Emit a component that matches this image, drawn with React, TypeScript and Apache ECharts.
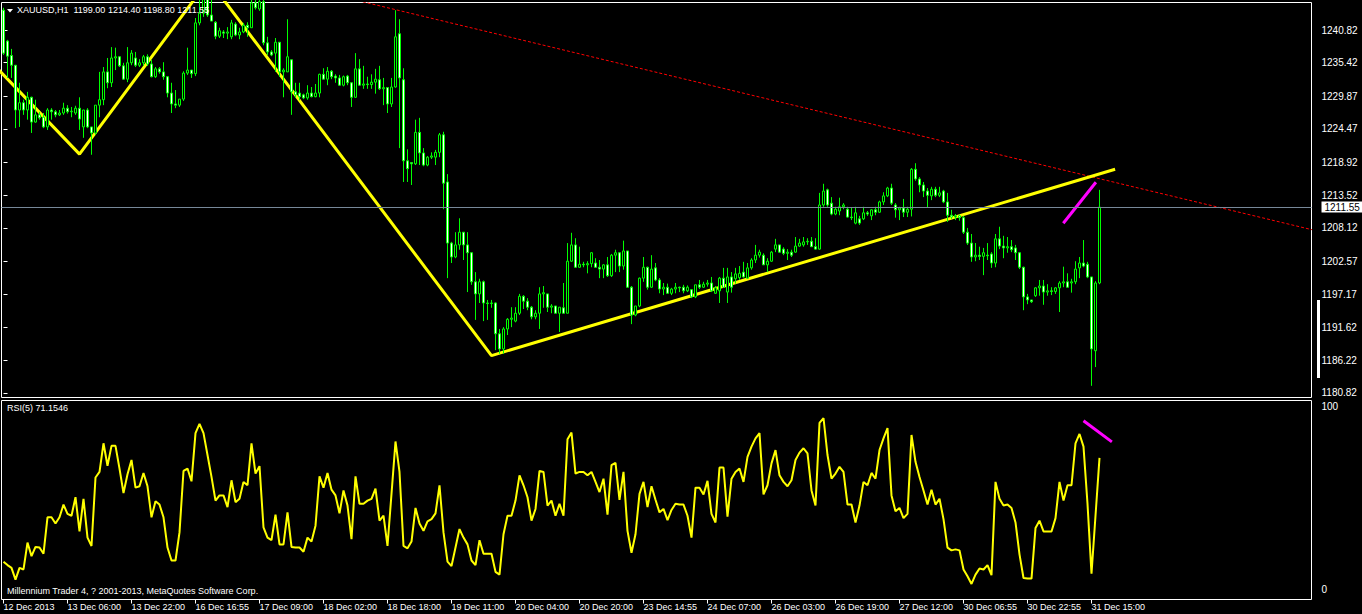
import { useEffect, useRef } from 'react';
import * as echarts from 'echarts';

// ---------- DATA ----------
// XAUUSD H1 candles: [open, high, low, close]
const candles: [number, number, number, number][] = [
  [1244.1, 1244.5, 1236.7, 1237.0], [1239.0, 1239.2, 1232.9, 1236.5], [1236.6, 1237.7, 1232.9, 1235.0], [1235.0, 1235.0, 1224.6, 1227.6],
  [1227.6, 1232.1, 1224.8, 1228.8], [1228.8, 1229.3, 1226.8, 1227.6], [1227.6, 1230.6, 1226.0, 1229.7], [1229.7, 1229.8, 1223.8, 1225.6],
  [1225.6, 1229.3, 1225.5, 1226.8], [1226.8, 1227.3, 1226.0, 1226.3], [1226.4, 1227.1, 1224.6, 1224.8], [1224.8, 1227.9, 1224.3, 1227.6],
  [1227.6, 1227.9, 1226.0, 1227.3], [1227.3, 1227.6, 1226.4, 1226.8], [1226.8, 1227.6, 1226.6, 1227.1], [1227.1, 1228.8, 1226.8, 1227.9],
  [1227.9, 1228.4, 1227.0, 1227.3], [1227.3, 1228.1, 1226.4, 1227.4], [1227.1, 1228.3, 1226.8, 1227.9], [1227.9, 1229.7, 1224.3, 1226.1],
  [1224.8, 1227.6, 1223.0, 1227.6], [1227.6, 1227.9, 1224.6, 1224.8], [1224.8, 1224.8, 1220.2, 1223.8], [1223.8, 1228.4, 1223.5, 1228.4],
  [1228.4, 1233.9, 1226.4, 1229.3], [1229.3, 1234.7, 1228.4, 1233.9], [1233.9, 1236.2, 1231.2, 1232.1], [1232.1, 1238.0, 1231.4, 1236.2],
  [1236.2, 1237.9, 1234.2, 1236.4], [1236.4, 1236.5, 1234.7, 1234.9], [1234.9, 1235.4, 1232.6, 1232.7], [1232.7, 1238.0, 1232.2, 1235.4],
  [1235.4, 1237.5, 1235.0, 1237.0], [1236.2, 1237.2, 1234.7, 1235.0], [1235.0, 1236.0, 1234.7, 1235.4], [1235.4, 1236.7, 1234.9, 1236.4],
  [1236.4, 1236.8, 1234.9, 1235.2], [1235.2, 1235.9, 1233.0, 1233.1], [1233.1, 1234.7, 1232.9, 1234.4], [1234.4, 1234.7, 1233.6, 1233.9],
  [1233.9, 1235.5, 1232.6, 1233.1], [1233.1, 1233.2, 1229.7, 1230.4], [1230.4, 1232.1, 1227.1, 1228.6], [1228.6, 1230.9, 1227.9, 1228.4],
  [1228.4, 1229.4, 1228.1, 1229.4], [1229.4, 1234.0, 1229.1, 1233.7], [1233.7, 1237.9, 1233.4, 1234.2], [1234.2, 1234.2, 1232.9, 1233.6],
  [1233.6, 1242.8, 1233.2, 1242.0], [1242.0, 1245.8, 1241.6, 1243.6], [1243.6, 1247.8, 1243.0, 1246.5], [1246.5, 1248.2, 1243.0, 1243.3],
  [1243.3, 1245.8, 1242.3, 1242.3], [1242.1, 1242.3, 1239.3, 1239.8], [1239.8, 1241.2, 1239.5, 1240.7], [1240.5, 1240.8, 1239.5, 1240.3],
  [1240.3, 1241.3, 1239.3, 1240.5], [1239.7, 1242.5, 1239.3, 1242.0], [1241.8, 1242.1, 1239.8, 1240.0], [1240.0, 1241.2, 1239.3, 1240.5],
  [1240.5, 1242.0, 1240.3, 1241.6], [1241.6, 1242.1, 1239.7, 1241.2], [1241.2, 1245.9, 1241.2, 1245.3], [1245.3, 1246.5, 1244.2, 1244.5],
  [1244.3, 1246.8, 1244.0, 1245.5], [1245.5, 1246.2, 1238.3, 1238.7], [1238.7, 1239.7, 1236.7, 1237.2], [1237.2, 1237.5, 1236.5, 1236.7],
  [1237.0, 1239.5, 1233.9, 1238.8], [1238.8, 1238.8, 1233.1, 1233.9], [1233.9, 1234.5, 1229.7, 1234.2], [1233.9, 1242.6, 1233.9, 1236.4],
  [1235.9, 1235.9, 1226.8, 1230.6], [1230.6, 1232.1, 1229.6, 1230.1], [1230.4, 1232.1, 1229.2, 1229.8], [1230.1, 1230.3, 1229.4, 1229.6],
  [1229.6, 1231.7, 1229.3, 1230.4], [1230.4, 1231.4, 1229.7, 1229.8], [1229.8, 1231.9, 1229.7, 1230.4], [1230.4, 1233.6, 1229.7, 1233.5],
  [1233.5, 1234.5, 1232.7, 1232.7], [1232.7, 1234.7, 1231.7, 1234.0], [1234.0, 1234.2, 1232.7, 1233.1], [1233.2, 1233.5, 1232.1, 1232.9],
  [1232.9, 1233.4, 1231.6, 1231.7], [1231.7, 1233.3, 1231.5, 1233.1], [1233.2, 1233.4, 1231.7, 1232.1], [1232.1, 1232.2, 1228.1, 1229.7],
  [1229.7, 1237.0, 1229.6, 1234.4], [1234.4, 1236.0, 1231.6, 1231.7], [1231.7, 1234.9, 1231.1, 1231.9], [1231.9, 1233.1, 1231.1, 1231.8],
  [1231.8, 1233.5, 1231.1, 1232.2], [1232.2, 1234.4, 1230.3, 1232.7], [1232.6, 1234.9, 1230.9, 1231.1], [1231.1, 1232.9, 1228.4, 1231.3],
  [1231.3, 1231.4, 1227.1, 1228.6], [1228.6, 1232.9, 1228.1, 1231.4], [1231.4, 1244.1, 1231.3, 1239.7], [1240.2, 1242.6, 1221.3, 1232.9],
  [1232.6, 1234.5, 1215.7, 1219.2], [1219.2, 1221.1, 1215.7, 1217.9], [1218.9, 1219.0, 1215.2, 1218.7], [1218.7, 1226.0, 1218.5, 1223.9],
  [1223.9, 1226.3, 1218.5, 1220.5], [1220.5, 1221.3, 1218.3, 1218.5], [1218.5, 1220.0, 1218.3, 1219.8], [1219.8, 1220.6, 1219.5, 1220.0],
  [1219.8, 1221.0, 1218.5, 1220.6], [1220.6, 1223.8, 1219.8, 1223.5], [1223.5, 1224.0, 1211.2, 1215.5], [1215.7, 1217.0, 1199.8, 1205.6],
  [1205.6, 1205.8, 1202.3, 1203.3], [1203.3, 1207.4, 1203.1, 1205.3], [1205.3, 1209.7, 1204.5, 1207.4], [1207.4, 1207.4, 1202.8, 1205.3],
  [1205.3, 1207.4, 1197.5, 1204.0], [1204.0, 1204.1, 1198.7, 1199.2], [1199.2, 1200.8, 1192.9, 1197.2], [1197.2, 1199.7, 1195.7, 1199.2],
  [1199.2, 1199.4, 1192.7, 1195.7], [1195.7, 1196.2, 1192.9, 1195.6], [1195.6, 1196.2, 1194.9, 1195.7], [1195.7, 1195.8, 1187.9, 1190.6],
  [1190.6, 1191.4, 1187.3, 1188.1], [1188.1, 1191.7, 1187.3, 1191.4], [1191.4, 1193.2, 1190.4, 1193.0], [1193.0, 1195.0, 1191.7, 1193.2],
  [1192.7, 1195.0, 1192.5, 1194.0], [1194.0, 1197.2, 1193.7, 1196.8], [1196.8, 1197.0, 1194.7, 1196.0], [1196.0, 1196.5, 1194.5, 1195.0],
  [1195.0, 1195.2, 1193.0, 1193.4], [1193.4, 1194.5, 1193.0, 1194.0], [1194.0, 1198.3, 1191.4, 1197.2], [1197.2, 1198.5, 1194.9, 1197.4],
  [1197.2, 1197.2, 1194.2, 1195.0], [1195.0, 1195.5, 1194.0, 1195.2], [1195.2, 1195.2, 1194.0, 1194.0], [1194.0, 1195.0, 1190.9, 1195.0],
  [1194.9, 1199.0, 1194.0, 1194.0], [1194.0, 1205.6, 1194.0, 1202.6], [1202.6, 1207.3, 1202.5, 1205.3], [1205.3, 1206.4, 1201.5, 1201.6],
  [1201.6, 1205.0, 1201.5, 1202.1], [1202.1, 1202.5, 1201.6, 1202.0], [1202.0, 1202.6, 1200.6, 1202.2], [1202.2, 1204.1, 1201.6, 1204.0],
  [1202.3, 1203.1, 1201.5, 1201.6], [1201.6, 1202.8, 1199.8, 1201.3], [1201.3, 1202.1, 1199.8, 1202.0], [1202.0, 1203.3, 1200.0, 1200.2],
  [1200.2, 1203.8, 1200.0, 1203.6], [1203.6, 1204.5, 1200.8, 1204.0], [1204.0, 1204.1, 1200.8, 1201.8], [1201.8, 1206.0, 1201.2, 1204.3],
  [1204.3, 1204.3, 1198.2, 1198.3], [1198.3, 1198.5, 1192.2, 1193.7], [1193.7, 1195.2, 1193.5, 1195.2], [1195.2, 1199.9, 1195.0, 1199.8],
  [1199.8, 1203.3, 1199.2, 1201.6], [1201.6, 1201.7, 1197.9, 1198.3], [1198.3, 1203.6, 1198.2, 1201.3], [1201.5, 1202.3, 1199.3, 1199.5],
  [1199.5, 1199.8, 1197.3, 1198.0], [1198.0, 1199.0, 1197.0, 1198.3], [1198.3, 1198.9, 1197.2, 1197.3], [1197.3, 1198.2, 1197.0, 1198.0],
  [1198.0, 1199.0, 1197.3, 1198.3], [1198.3, 1198.4, 1197.5, 1198.2], [1198.3, 1198.7, 1197.3, 1197.7], [1197.7, 1198.6, 1197.5, 1198.3],
  [1197.9, 1198.0, 1196.5, 1196.7], [1196.7, 1198.7, 1196.5, 1198.7], [1198.7, 1199.5, 1198.0, 1198.3], [1198.3, 1199.2, 1198.2, 1198.8],
  [1198.8, 1199.5, 1198.4, 1199.0], [1199.0, 1200.0, 1197.5, 1197.7], [1197.3, 1198.5, 1197.2, 1198.2], [1197.7, 1200.0, 1195.7, 1199.8],
  [1199.8, 1201.5, 1198.2, 1198.3], [1197.5, 1201.5, 1195.7, 1200.0], [1200.0, 1200.8, 1197.4, 1198.3], [1199.7, 1201.5, 1198.9, 1200.5],
  [1199.9, 1201.8, 1199.5, 1200.6], [1200.8, 1202.5, 1199.9, 1200.0], [1199.8, 1202.3, 1199.7, 1201.5], [1201.5, 1203.1, 1201.2, 1202.8],
  [1202.8, 1205.3, 1202.3, 1203.6], [1203.6, 1204.5, 1203.2, 1204.1], [1203.6, 1203.9, 1202.0, 1202.0], [1202.0, 1203.1, 1200.8, 1202.6],
  [1202.6, 1204.3, 1202.5, 1204.1], [1204.6, 1206.3, 1204.1, 1205.3], [1205.3, 1205.3, 1204.0, 1204.1], [1204.6, 1204.9, 1203.6, 1203.9],
  [1203.9, 1204.6, 1202.8, 1204.1], [1204.1, 1204.5, 1203.3, 1203.6], [1204.1, 1206.6, 1204.0, 1205.1], [1205.1, 1206.3, 1205.0, 1205.6],
  [1205.3, 1206.6, 1205.0, 1205.8], [1205.8, 1206.4, 1205.3, 1205.9], [1205.9, 1206.6, 1205.0, 1205.0], [1205.0, 1206.4, 1204.5, 1204.6],
  [1204.6, 1213.9, 1204.5, 1211.9], [1211.9, 1215.4, 1211.6, 1214.2], [1214.4, 1214.6, 1211.6, 1211.9], [1212.2, 1213.2, 1210.2, 1210.4],
  [1210.4, 1211.6, 1210.2, 1211.2], [1210.9, 1213.1, 1210.2, 1211.6], [1211.6, 1212.2, 1211.2, 1211.9], [1211.2, 1211.6, 1209.8, 1209.9],
  [1209.9, 1211.4, 1209.4, 1209.8], [1208.9, 1211.6, 1208.7, 1210.6], [1209.6, 1210.1, 1208.6, 1208.9], [1209.6, 1211.6, 1209.4, 1210.6],
  [1210.6, 1210.9, 1210.1, 1210.4], [1210.1, 1211.2, 1209.4, 1211.1], [1211.1, 1211.6, 1210.2, 1210.7], [1210.7, 1212.6, 1210.6, 1212.4],
  [1212.4, 1214.0, 1211.9, 1213.4], [1213.4, 1214.9, 1213.2, 1214.7], [1214.7, 1215.4, 1211.9, 1212.2], [1211.9, 1212.2, 1209.8, 1211.1],
  [1211.1, 1211.6, 1209.4, 1211.4], [1211.4, 1212.9, 1209.9, 1210.7], [1210.7, 1211.6, 1209.9, 1211.2], [1211.2, 1218.0, 1210.0, 1217.8],
  [1217.8, 1218.8, 1215.9, 1216.2], [1216.2, 1216.5, 1214.0, 1215.2], [1215.2, 1215.7, 1213.2, 1214.2], [1214.2, 1214.7, 1211.4, 1213.5],
  [1213.4, 1214.9, 1212.7, 1214.5], [1214.5, 1214.9, 1213.2, 1213.5], [1213.5, 1214.9, 1213.2, 1213.9], [1214.2, 1214.4, 1212.2, 1212.4],
  [1212.4, 1213.9, 1209.1, 1210.2], [1210.2, 1211.1, 1209.6, 1209.9], [1209.9, 1210.4, 1209.4, 1210.1], [1210.1, 1210.3, 1209.3, 1209.8],
  [1209.8, 1210.1, 1207.1, 1207.4], [1207.4, 1208.1, 1205.3, 1205.6], [1205.6, 1207.1, 1202.5, 1203.3], [1203.3, 1205.6, 1202.6, 1203.6],
  [1203.6, 1205.0, 1202.8, 1203.4], [1203.4, 1204.8, 1200.3, 1204.0], [1203.6, 1205.6, 1202.8, 1203.5], [1203.8, 1204.1, 1201.5, 1202.3],
  [1202.3, 1207.1, 1201.6, 1206.3], [1206.3, 1208.3, 1204.6, 1205.1], [1205.1, 1206.8, 1203.1, 1204.8], [1204.8, 1206.6, 1204.0, 1205.0],
  [1205.0, 1206.1, 1204.1, 1204.5], [1204.8, 1205.3, 1202.8, 1204.0], [1204.0, 1204.1, 1201.3, 1201.6], [1201.6, 1201.7, 1194.5, 1196.7],
  [1196.7, 1197.2, 1195.5, 1196.2], [1196.2, 1196.2, 1195.7, 1195.9], [1196.9, 1198.3, 1196.7, 1198.2], [1198.2, 1199.5, 1196.9, 1198.5],
  [1198.5, 1199.5, 1195.4, 1197.5], [1197.5, 1198.8, 1196.9, 1197.7], [1197.7, 1198.3, 1197.0, 1197.6], [1197.6, 1198.3, 1197.2, 1198.2],
  [1198.2, 1199.3, 1194.2, 1199.0], [1199.0, 1201.7, 1198.3, 1199.2], [1199.2, 1200.6, 1198.2, 1198.3], [1199.0, 1199.7, 1197.4, 1199.2],
  [1199.2, 1202.6, 1198.8, 1201.3], [1201.5, 1203.3, 1199.8, 1202.3], [1202.3, 1206.1, 1201.6, 1201.8], [1202.1, 1202.5, 1199.8, 1200.0],
  [1200.0, 1200.0, 1182.0, 1188.1], [1187.8, 1199.3, 1185.1, 1199.0], [1199.0, 1214.4, 1198.8, 1211.55],
];

// RSI(5) values, one per candle
const rsiValues: number[] = [
  19.0, 17.3, 15.9, 10.0, 15.9, 15.1, 28.6, 21.8, 26.4, 26.1,
  23.0, 41.3, 41.3, 38.2, 41.3, 47.7, 43.0, 42.1, 51.4, 34.2,
  50.6, 31.1, 26.9, 61.3, 64.1, 78.5, 67.2, 77.2, 77.2, 65.8,
  53.5, 62.9, 70.1, 56.2, 56.9, 63.6, 56.9, 41.3, 49.4, 47.7,
  41.3, 26.1, 19.6, 19.6, 33.7, 64.6, 65.8, 59.4, 83.6, 88.3,
  83.6, 72.6, 61.6, 49.7, 52.3, 52.3, 46.4, 59.9, 48.9, 50.6,
  59.1, 57.4, 78.5, 63.3, 67.0, 36.2, 31.1, 29.8, 42.6, 27.7,
  27.7, 43.8, 26.4, 26.1, 26.1, 24.0, 31.1, 29.1, 37.1, 61.9,
  56.2, 63.6, 55.2, 52.3, 43.3, 54.8, 47.2, 30.3, 61.9, 48.1,
  48.1, 49.7,
  50.6, 55.7, 39.6, 42.1, 26.9, 53.1, 79.4, 64.1, 26.9, 25.7,
  29.1, 46.0, 38.2, 34.5, 39.3, 40.4, 43.3, 57.4, 33.7, 19.0,
  16.8, 26.1, 35.4, 31.1, 27.7, 19.6, 17.3, 29.8, 23.0, 23.0,
  23.0, 13.9, 12.5, 32.8, 42.1, 42.1, 49.7, 62.4, 57.4, 51.4,
  39.6, 45.5, 64.6, 64.1, 47.2, 49.7, 42.1, 48.1, 42.1, 80.5,
  83.9, 63.3, 64.1, 64.1, 62.4, 64.1, 59.1, 54.0, 60.7, 42.6,
  67.5, 68.7, 50.1, 64.1, 34.5, 23.5, 32.8, 53.1, 59.1, 46.4,
  56.9, 50.1, 43.8, 45.5, 39.9, 45.0, 48.1, 47.7, 47.7, 42.1,
  31.1, 56.2, 56.2, 52.8, 59.6, 43.0, 38.7, 66.3, 66.3, 41.6,
  60.7, 64.1, 65.8,
  59.1, 71.7, 76.8, 81.0, 83.6, 52.8, 57.4, 68.4, 75.1, 62.4,
  59.1, 56.9, 59.9, 70.1, 73.8, 76.0, 73.4, 54.8, 47.2, 88.7,
  91.2, 72.6, 60.7, 63.3, 66.7, 64.1, 47.7, 47.7, 38.7, 47.2,
  59.1, 57.4, 63.6, 60.7, 75.1, 81.0, 86.1, 52.3, 44.3, 46.0,
  40.9, 43.0, 82.7, 69.2, 61.6, 54.8, 47.7, 55.2, 47.7, 50.6,
  40.4, 26.1, 24.7, 25.2, 24.7, 15.1, 11.7, 7.8, 12.5, 15.6,
  15.1, 17.3, 12.2, 59.1, 50.6, 47.2, 47.7, 46.0, 38.7, 22.7,
  10.8, 10.5, 10.5, 35.9, 39.6, 34.2, 34.2, 34.2, 40.9, 59.1,
  49.7, 57.4, 57.4, 78.5, 83.2, 76.8, 48.1, 13.0, 42.1, 71.1546,
];

const xTickBars = [0, 16, 32, 48, 64, 80, 96, 112, 128, 144, 160, 176, 192, 208, 224, 240, 256, 272];
const xTickLabels = [
  '12 Dec 2013', '13 Dec 06:00', '13 Dec 22:00', '16 Dec 16:55', '17 Dec 09:00', '18 Dec 02:00',
  '18 Dec 18:00', '19 Dec 11:00', '20 Dec 04:00', '20 Dec 20:00', '23 Dec 14:55', '24 Dec 07:00',
  '26 Dec 03:00', '26 Dec 19:00', '27 Dec 12:00', '30 Dec 06:55', '30 Dec 22:55', '31 Dec 15:00',
];
const priceTicks = [1240.82, 1235.42, 1229.87, 1224.47, 1218.92, 1213.52, 1208.12, 1202.57, 1197.17, 1191.62, 1186.22, 1180.82];
const rsiTicks = [0, 100];

// hand-drawn objects (bar index, price)
const zigzagBars = [-3.4, 19, 51.3, 122, 277.9];
const zigzagPrices = [1235.75, 1220.3, 1249.1, 1187.0, 1217.8];
const resistBars = [74, 330];
const resistPrices = [1248.0, 1207.35];
const priceDivBars = [264.95, 273.1];
const priceDivPrices = [1208.87, 1215.65];
const rsiDivBars = [270, 277.1];
const rsiDivValues = [89.8, 79.2];

const bidPrice = 1211.55;
const symbolName = 'XAUUSD,H1';
const rsiPeriod = 5;
const copyright = 'Millennium Trader 4, ? 2001-2013, MetaQuotes Software Corp.';

const FONT = '"Liberation Sans", Arial, sans-serif';
const FS = 9;
const FS_AXIS = 10;

function buildOption() {
  const last = candles[candles.length - 1];
  const titleText = `${symbolName}  ${last[0].toFixed(2)} ${last[1].toFixed(2)} ${last[2].toFixed(2)} ${last[3].toFixed(2)}`;
  const rsiText = `RSI(${rsiPeriod}) ${rsiValues[rsiValues.length - 1].toFixed(4)}`;
  const candleData = candles.map(([o, h, l, c], i) => [i, o, c, l, h]);
  const pair = (xs: number[], ys: number[]) => xs.map((x, i) => [x, ys[i]]);
  const txt = { color: '#ffffff', fontSize: FS, fontFamily: FONT, fontWeight: 'normal' as const };
  const axisTxt = { ...txt, fontSize: FS_AXIS };

  return {
    animation: false,
    backgroundColor: '#000000',
    textStyle: { fontFamily: FONT },
    title: [
      { text: titleText, left: 17, top: 5, padding: 0, textStyle: txt },
      { text: rsiText, left: 7, top: 403, padding: 0, textStyle: txt },
      { text: copyright, left: 7, top: 586, padding: 0, textStyle: txt },
    ],
    graphic: [
      { type: 'polygon', shape: { points: [[7, 9], [13, 9], [10, 12.5]] }, style: { fill: '#ffffff' } },
      { type: 'rect', shape: { x: 1317, y: 300, width: 3, height: 78 }, style: { fill: '#ffffff' } },
    ],
    grid: [
      { left: 1.5, top: 2.5, width: 1310, height: 395, show: true, borderColor: '#ffffff', borderWidth: 1, backgroundColor: 'transparent' },
      { left: 1.5, top: 400.5, width: 1310, height: 199, show: true, borderColor: '#ffffff', borderWidth: 1, backgroundColor: 'transparent' },
    ],
    xAxis: [
      { type: 'value', gridIndex: 0, min: -0.5, max: 327, show: false },
      {
        type: 'value', gridIndex: 1, min: -0.5, max: 327,
        axisLine: { show: false }, splitLine: { show: false },
        axisTick: { show: true, customValues: xTickBars, length: 4, lineStyle: { color: '#ffffff' } },
        axisLabel: {
          customValues: xTickBars,
          formatter: (v: number) => xTickLabels[xTickBars.indexOf(v)] ?? '',
          align: 'left', margin: 3, ...txt,
        },
      },
    ],
    yAxis: [
      {
        type: 'value', gridIndex: 0, position: 'right', min: 1180.07, max: 1245.37,
        axisLine: { show: false }, splitLine: { show: false },
        axisTick: { show: true, customValues: priceTicks, length: 4, lineStyle: { color: '#ffffff' } },
        axisLabel: { customValues: priceTicks, formatter: (v: number) => v.toFixed(2), margin: 10, ...axisTxt },
      },
      {
        type: 'value', gridIndex: 1, position: 'right', min: 0, max: 100,
        axisLine: { show: false }, splitLine: { show: false },
        axisTick: { show: true, customValues: rsiTicks, length: 3, lineStyle: { color: '#ffffff' } },
        axisLabel: {
          customValues: rsiTicks, margin: 10, ...axisTxt,
          formatter: (v: number) => (v >= 100 ? `{top|${v}}` : `{bot|${v}}`),
          rich: {
            top: { padding: [12, 0, 0, 0], ...axisTxt },
            bot: { padding: [0, 0, 20, 0], ...axisTxt },
          },
        },
      },
    ],
    series: [
      {
        type: 'line', xAxisIndex: 0, yAxisIndex: 0, z: 1, silent: true, clip: true,
        data: pair(resistBars, resistPrices), symbol: 'none',
        lineStyle: { color: '#ff0000', width: 1, type: [3, 2] },
      },
      {
        type: 'line', xAxisIndex: 0, yAxisIndex: 0, z: 1, silent: true, clip: true,
        data: pair(zigzagBars, zigzagPrices), symbol: 'none',
        lineStyle: { color: '#ffff00', width: 3 },
      },
      {
        type: 'candlestick', xAxisIndex: 0, yAxisIndex: 0, z: 3, silent: true, barWidth: 2,
        data: candleData, encode: { x: 0, y: [1, 2, 3, 4] },
        itemStyle: { color: '#000000', color0: '#ffffff', borderColor: '#00ff00', borderColor0: '#00ff00', borderWidth: 1 },
        markLine: {
          silent: true, symbol: ['none', 'none'], animation: false,
          data: [{ yAxis: bidPrice }],
          lineStyle: { color: '#778899', width: 1, type: 'solid' },
          label: {
            show: true, position: 'end', formatter: bidPrice.toFixed(2), distance: 10,
            color: '#000000', backgroundColor: '#ffffff', padding: [1, 3, 0, 3],
            fontSize: FS_AXIS, fontFamily: FONT,
          },
        },
      },
      {
        type: 'line', xAxisIndex: 0, yAxisIndex: 0, z: 4, silent: true, clip: true,
        data: pair(priceDivBars, priceDivPrices), symbol: 'none',
        lineStyle: { color: '#ff00ff', width: 3 },
      },
      {
        type: 'line', xAxisIndex: 1, yAxisIndex: 1, z: 2, silent: true, clip: true,
        data: rsiValues.map((v, i) => [i, v]), symbol: 'none',
        lineStyle: { color: '#ffff00', width: 2 },
      },
      {
        type: 'line', xAxisIndex: 1, yAxisIndex: 1, z: 3, silent: true, clip: true,
        data: pair(rsiDivBars, rsiDivValues), symbol: 'none',
        lineStyle: { color: '#ff00ff', width: 3 },
      },
    ],
  };
}

export default function App() {
  const ref = useRef<HTMLDivElement>(null);
  useEffect(() => {
    if (!ref.current) return;
    const chart = echarts.init(ref.current, null, { renderer: 'svg' });
    chart.setOption(buildOption() as any);
    return () => chart.dispose();
  }, []);
  return (
    <div
      ref={ref}
      style={{ position: 'fixed', left: 0, top: 0, width: 1362, height: 614, background: '#000000' }}
    />
  );
}
